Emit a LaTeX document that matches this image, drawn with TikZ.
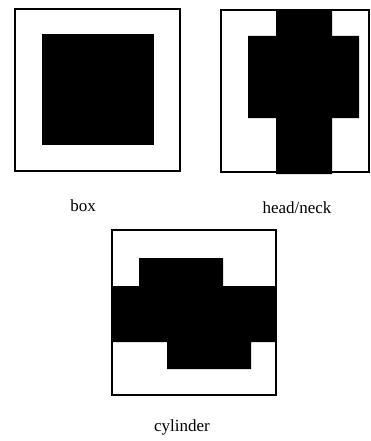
\documentclass[tikz,border=0pt]{standalone}
\usepackage{fontspec}
\setmainfont{Liberation Serif}
\begin{document}
\begin{tikzpicture}[x=1pt,y=-1pt,
  frame/.style={draw=black,line width=1.6pt,fill=white},
  solid/.style={fill=black},
  lbl/.style={font=\fontsize{17}{20}\selectfont,inner sep=0pt}]
\useasboundingbox (0,0) rectangle (371,441);
% box
\draw[frame] (15,9) rectangle (180,171);
\fill[solid] (42,34) rectangle (154,145);
\node[lbl] (box) at (83,206) {box};
% head/neck
\draw[frame] (221,10) rectangle (369,172);
\fill[solid] (276,10) -- (332,10) -- (332,36) -- (359,36) -- (359,118) -- (332,118) -- (332,174) -- (276,174) -- (276,118) -- (248,118) -- (248,36) -- (276,36) -- cycle;
\node[lbl] (headneck) at (297,208) {head/neck};
% cylinder
\draw[frame] (112,230) rectangle (276,395);
\fill[solid] (139,258) -- (223,258) -- (223,286) -- (276,286) -- (276,342) -- (251,342) -- (251,369) -- (167,369) -- (167,342) -- (112,342) -- (112,286) -- (139,286) -- cycle;
\node[lbl] (cyl) at (182,427) {cylinder};
\end{tikzpicture}
\end{document}
